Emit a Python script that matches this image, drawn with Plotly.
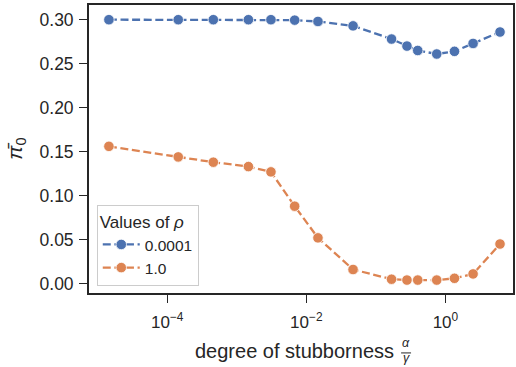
import plotly.graph_objects as go

# ---- data ----
stubbornness = [1.45e-5, 1.44e-4, 4.6e-4, 1.47e-3, 3.1e-3, 6.8e-3, 1.47e-2,
                4.7e-2, 0.168, 0.28, 0.40, 0.75, 1.35, 2.5, 6.1]
pi0_rho_small = [0.300, 0.300, 0.300, 0.300, 0.300, 0.2995, 0.298, 0.293,
                 0.278, 0.270, 0.265, 0.261, 0.264, 0.273, 0.286]
pi0_rho_one = [0.156, 0.144, 0.138, 0.133, 0.127, 0.088, 0.052, 0.016,
               0.005, 0.004, 0.004, 0.004, 0.006, 0.011, 0.045]
series_names = ["0.0001", "1.0"]
series_colors = ["#4c72b0", "#dd8452"]
x_tickvals = [1e-4, 1e-2, 1]
x_exponents = ["−4", "−2", "0"]
y_tickvals = [0.00, 0.05, 0.10, 0.15, 0.20, 0.25, 0.30]

W, H = 516, 367
L, R, T, B = 88.7, 1, 5.3, 74.3
FONT = "Liberation Sans, Arial, sans-serif"
TXT = "#262626"

def px_x(p):
    return (p - L) / (W - L - R)

def px_y(p):
    return (H - B - p) / (H - T - B)

x_ticktext = ["10<sup>%s</sup>" % e for e in x_exponents]

fig = go.Figure()
for name, ys, col in zip(series_names, [pi0_rho_small, pi0_rho_one], series_colors):
    fig.add_trace(go.Scatter(
        x=stubbornness, y=ys, name=name, mode="lines+markers",
        line=dict(color=col, width=2.3, dash="8px,3.6px"),
        marker=dict(color=col, size=10.5, line=dict(color="white", width=0.8)),
    ))

axis_common = dict(
    showgrid=False, zeroline=False, showline=True, linecolor=TXT, linewidth=1.8,
    mirror=True, ticks="outside", ticklen=8, tickwidth=1.4, tickcolor=TXT,
)

fig.update_layout(
    width=W, height=H,
    margin=dict(l=L, r=R, t=T, b=B, pad=0),
    paper_bgcolor="white", plot_bgcolor="white",
    font=dict(family=FONT, color=TXT),
    xaxis=dict(type="log", range=[-5.125, 0.972], tickmode="array",
               tickvals=x_tickvals, ticktext=x_ticktext, ticklabelstandoff=5,
               tickfont=dict(family=FONT, size=17, color=TXT), **axis_common),
    yaxis=dict(range=[-0.0107, 0.3167], tickmode="array", tickvals=y_tickvals,
               ticktext=[f"{v:.2f}" for v in y_tickvals], ticklabelstandoff=2,
               tickfont=dict(family=FONT, size=17.5, color=TXT), **axis_common),
    legend=dict(
        title=dict(text="Values of <i>ρ</i>", font=dict(family=FONT, size=17, color=TXT)),
        font=dict(family=FONT, size=15.5, color=TXT),
        x=px_x(96.5), y=px_y(285.5), xanchor="left", yanchor="bottom",
        bgcolor="rgba(255,255,255,0.8)", bordercolor="#cccccc", borderwidth=1,
        tracegroupgap=0, itemwidth=37,
    ),
    showlegend=True,
)

ann = [
    dict(text="degree of stubborness", x=px_x(295), y=px_y(351), font=dict(size=20),
         yanchor="middle"),
    dict(text="<i>α</i>", x=px_x(407.5), y=px_y(352), font=dict(size=12.5),
         yanchor="bottom"),
    dict(text="<i>γ</i>", x=px_x(407.5), y=px_y(366.5), font=dict(size=12.5),
         yanchor="bottom"),
    dict(text="<i>π̄</i><sub>0</sub>", x=px_x(15), y=px_y(149), font=dict(size=21),
         textangle=-90, yanchor="middle"),
]
for a in ann:
    fig.add_annotation(xref="paper", yref="paper", showarrow=False,
                       xanchor="center",
                       **{k: v for k, v in a.items() if k != "font"},
                       font=dict(family=FONT, color=TXT, **a["font"]))

fig.add_shape(type="line", xref="paper", yref="paper",
              x0=px_x(402.5), x1=px_x(412.5), y0=px_y(352.5), y1=px_y(352.5),
              line=dict(color=TXT, width=1))

fig.write_html("out.html")
